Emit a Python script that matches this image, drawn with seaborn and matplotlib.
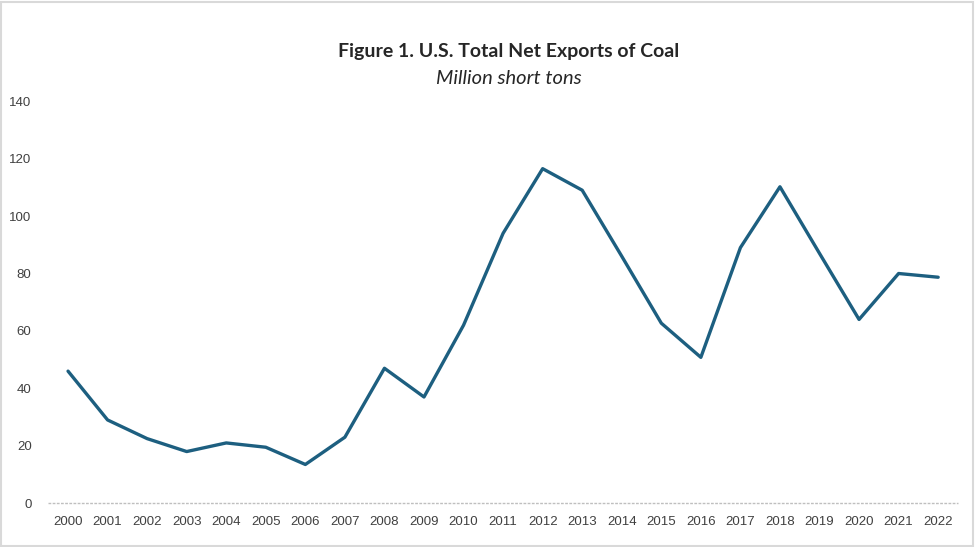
import matplotlib
matplotlib.use('Agg')
import matplotlib.pyplot as plt
import seaborn as sns
import pandas as pd
from matplotlib.patches import Rectangle

years = [str(y) for y in range(2000, 2023)]
net_exports = [46, 29, 22.5, 18, 21, 19.5, 13.5, 23, 47, 37, 62, 94, 116.5,
               109, 86, 62.7, 50.8, 89, 110.2, 87, 64, 80, 78.7]
y_ticks = [0, 20, 40, 60, 80, 100, 120, 140]

df = pd.DataFrame({'year': years, 'exports': net_exports})

sns.set_theme(style='white')
plt.rcParams['font.family'] = ['Liberation Sans', 'DejaVu Sans']

fig = plt.figure(figsize=(9.75, 5.47), dpi=100)
ax = fig.add_axes([0.0495, 0.080, 0.933, 0.735])

sns.lineplot(data=df, x='year', y='exports', ax=ax, color='#1d5f80',
             linewidth=2.4, sort=False)

ax.set_xlim(-0.5, len(years) - 0.5)
ax.set_ylim(0, 140)
ax.set_yticks(y_ticks)
ax.set_xlabel('')
ax.set_ylabel('')
ax.tick_params(axis='both', colors='#404040', labelsize=9.5, length=0)
ax.tick_params(axis='x', pad=9)
ax.tick_params(axis='y', pad=12)
for side in ['top', 'right', 'left', 'bottom']:
    ax.spines[side].set_visible(False)
ax.axhline(0, color='#bfbfbf', linewidth=1, linestyle=(0, (2, 1)), zorder=0,
           clip_on=False)

fig.text(0.522, 0.905, 'Figure 1. U.S. Total Net Exports of Coal', ha='center',
         va='center', fontsize=14, fontweight='bold', color='#262626',
         family=['Lato', 'DejaVu Sans'])
fig.text(0.522, 0.857, 'Million short tons', ha='center', va='center',
         fontsize=14.5, style='italic', color='#262626',
         family=['Lato', 'DejaVu Sans'])

fig.patches.append(Rectangle((0.001, 0.002), 0.997, 0.995, transform=fig.transFigure,
                             fill=False, edgecolor='#d9d9d9', linewidth=1.5))

fig.savefig('out.png', dpi=100)
